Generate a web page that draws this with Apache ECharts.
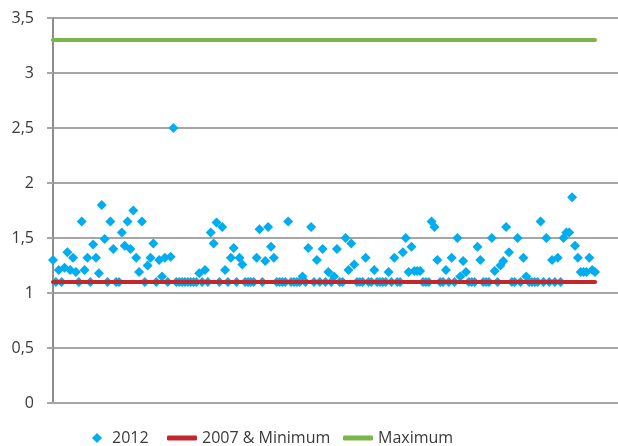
<!DOCTYPE html>
<html>
<head>
<meta charset="utf-8">
<script src="https://cdn.jsdelivr.net/npm/echarts@6/dist/echarts.min.js"></script>
<style>
  html, body { margin: 0; padding: 0; background: #fff; }
  #chart { width: 618px; height: 446px; }
</style>
</head>
<body>
<div id="chart"></div>
<script>
var values2012 = [
    1.30, 1.10, 1.21, 1.10, 1.23, 1.37, 1.21, 1.32, 1.19, 1.10,
    1.65, 1.21, 1.32, 1.10, 1.44, 1.32, 1.18, 1.80, 1.49, 1.10,
    1.65, 1.40, 1.10, 1.10, 1.55, 1.43, 1.65, 1.40, 1.75, 1.32,
    1.19, 1.65, 1.10, 1.25, 1.32, 1.45, 1.10, 1.30, 1.15, 1.32,
    1.10, 1.33, 2.50, 1.10, 1.10, 1.10, 1.10, 1.10, 1.10, 1.10,
    1.10, 1.18, 1.10, 1.21, 1.10, 1.55, 1.45, 1.64, 1.10, 1.60,
    1.21, 1.10, 1.32, 1.41, 1.10, 1.32, 1.26, 1.10, 1.10, 1.10,
    1.10, 1.32, 1.58, 1.10, 1.29, 1.60, 1.42, 1.32, 1.10, 1.10,
    1.10, 1.10, 1.65, 1.10, 1.10, 1.10, 1.10, 1.15, 1.10, 1.41,
    1.60, 1.10, 1.30, 1.10, 1.40, 1.10, 1.19, 1.10, 1.15, 1.40,
    1.10, 1.10, 1.50, 1.21, 1.45, 1.26, 1.10, 1.10, 1.10, 1.32,
    1.10, 1.10, 1.21, 1.10, 1.10, 1.10, 1.10, 1.19, 1.10, 1.32,
    1.10, 1.10, 1.37, 1.50, 1.19, 1.42, 1.20, 1.20, 1.20, 1.10,
    1.10, 1.10, 1.65, 1.60, 1.30, 1.10, 1.10, 1.21, 1.10, 1.32,
    1.10, 1.50, 1.15, 1.29, 1.19, 1.10, 1.10, 1.10, 1.42, 1.30,
    1.10, 1.10, 1.10, 1.50, 1.20, 1.10, 1.25, 1.29, 1.60, 1.37,
    1.10, 1.10, 1.50, 1.10, 1.32, 1.15, 1.10, 1.10, 1.10, 1.10,
    1.65, 1.10, 1.50, 1.10, 1.30, 1.10, 1.32, 1.10, 1.50, 1.55,
    1.55, 1.87, 1.43, 1.32, 1.19, 1.19, 1.19, 1.32, 1.21, 1.19
];
var minimum2007 = 1.1;
var maximumLimit = 3.3;
var yTicks = [0, 0.5, 1, 1.5, 2, 2.5, 3, 3.5];
var seriesNames = ["2012", "2007 & Minimum", "Maximum"];

var lastIdx = values2012.length - 1;

var scatterData = values2012.map(function (v, i) { return [i, v]; });
var minLine = [[0, minimum2007], [lastIdx, minimum2007]];
var maxLine = [[0, maximumLimit], [lastIdx, maximumLimit]];

var fontFam = "'Open Sans', 'DejaVu Sans', sans-serif";
var txtColor = "#3a3a3a";

var dom = document.getElementById("chart"),
    myChart = echarts.init(dom, null, { renderer: "canvas" }),
    option = null;

option = {
    animation: false,
    backgroundColor: "#ffffff",
    grid: { left: 50, right: 0, top: 18, bottom: 43, containLabel: false },
    xAxis: {
        type: "value",
        min: -1.05,
        max: 197,
        axisLine: { show: true, lineStyle: { color: "#a6a6a6", width: 2 } },
        axisTick: { show: false },
        axisLabel: { show: false },
        splitLine: { show: false }
    },
    yAxis: {
        type: "value",
        min: yTicks[0],
        max: yTicks[yTicks.length - 1],
        interval: yTicks[1] - yTicks[0],
        axisLine: { show: true, lineStyle: { color: "#8c8c8c", width: 2 } },
        axisTick: { show: true, length: 6, lineStyle: { color: "#a6a6a6", width: 2 } },
        axisLabel: {
            margin: 16,
            fontFamily: fontFam,
            fontSize: 16,
            color: txtColor,
            formatter: function (v) { return String(v).replace(".", ","); }
        },
        splitLine: { show: true, lineStyle: { color: "#a6a6a6", width: 2 } }
    },
    // three legends so each item sits where the picture has it
    legend: [
        {
            data: [{ name: seriesNames[0], icon: "diamond" }],
            left: 87, top: 425, itemWidth: 10, itemHeight: 10,
            textStyle: { fontFamily: fontFam, fontSize: 16, color: txtColor, padding: [0, 0, 0, 5] }
        },
        {
            data: [{ name: seriesNames[1], icon: "roundRect" }],
            left: 162, top: 425, itemWidth: 30, itemHeight: 5,
            textStyle: { fontFamily: fontFam, fontSize: 16, color: txtColor }
        },
        {
            data: [{ name: seriesNames[2], icon: "roundRect" }],
            left: 338, top: 425, itemWidth: 30, itemHeight: 5,
            textStyle: { fontFamily: fontFam, fontSize: 16, color: txtColor }
        }
    ],
    series: [
        {
            name: seriesNames[0],
            type: "scatter",
            symbol: "diamond",
            symbolSize: 10,
            itemStyle: { color: "#00adef", opacity: 1 },
            data: scatterData,
            z: 2
        },
        {
            name: seriesNames[1],
            type: "line",
            showSymbol: false,
            symbol: "none",
            lineStyle: { color: "#c0282d", width: 4, cap: "round" },
            itemStyle: { color: "#c0282d" },
            data: minLine,
            z: 3
        },
        {
            name: seriesNames[2],
            type: "line",
            showSymbol: false,
            symbol: "none",
            lineStyle: { color: "#7ab648", width: 4, cap: "round" },
            itemStyle: { color: "#7ab648" },
            data: maxLine,
            z: 3
        }
    ]
};

option && "object" == typeof option && myChart.setOption(option, !0);
</script>
</body>
</html>
